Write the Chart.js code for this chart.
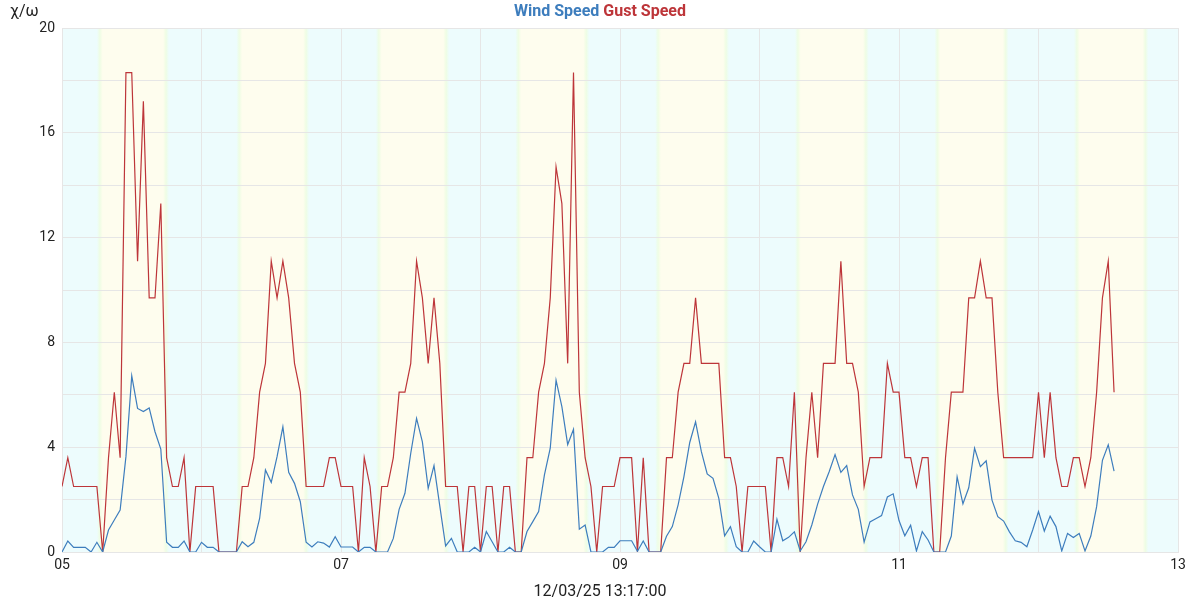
<!DOCTYPE html>
<html lang="en">
<head>
    <meta charset="UTF-8">
    <meta name="viewport" content="width=device-width, initial-scale=1.0">
    <script src="https://cdn.jsdelivr.net/npm/chart.js"></script>
    <title>Wind Speed Gust Speed</title>
    <style>
        body { margin: 0; background: #fff; }
        #wrap { width: 1200px; height: 600px; }
    </style>
</head>
<body>
    <div id="wrap"><canvas id="myChart"></canvas></div>
</body>

<script>
    // hourly readings, first one at day 05 00:00
    const firstDay = 5;
    const hoursPerStep = 1;

    const windSpeed = [
        0.0, 0.42, 0.18, 0.18, 0.18, 0.0, 0.37, 0.0, 0.84, 1.22,
        1.6, 3.64, 6.72, 5.48, 5.36, 5.5, 4.59, 3.93, 0.37, 0.18,
        0.18, 0.42, 0.0, 0.0, 0.37, 0.18, 0.18, 0.0, 0.0, 0.0,
        0.0, 0.39, 0.2, 0.37, 1.28, 3.13, 2.66, 3.64, 4.78, 3.04,
        2.62, 1.92, 0.37, 0.19, 0.39, 0.34, 0.19, 0.58, 0.19, 0.19,
        0.19, 0.0, 0.18, 0.18, 0.0, 0.0, 0.0, 0.52, 1.63, 2.24,
        3.77, 5.1, 4.2, 2.43, 3.3, 1.75, 0.23, 0.52, 0.0, 0.0,
        0.0, 0.18, 0.0, 0.78, 0.39, 0.0, 0.0, 0.18, 0.0, 0.0,
        0.78, 1.16, 1.54, 2.94, 3.96, 6.56, 5.55, 4.1, 4.68, 0.87,
        1.03, 0.0, 0.0, 0.0, 0.18, 0.18, 0.43, 0.43, 0.43, 0.03,
        0.42, 0.0, 0.0, 0.0, 0.6, 0.97, 1.8, 2.88, 4.18, 4.97,
        3.83, 2.98, 2.81, 2.05, 0.62, 0.97, 0.2, 0.0, 0.0, 0.42,
        0.2, 0.0, 0.0, 1.25, 0.43, 0.56, 0.77, 0.04, 0.39, 1.03,
        1.83, 2.5, 3.07, 3.72, 3.04, 3.3, 2.18, 1.63, 0.38, 1.15,
        1.27, 1.39, 2.1, 2.22, 1.2, 0.62, 1.02, 0.04, 0.78, 0.46,
        0.0, 0.0, 0.0, 0.61, 2.87, 1.84, 2.45, 3.96, 3.26, 3.48,
        1.98, 1.35, 1.18, 0.77, 0.43, 0.37, 0.2, 0.84, 1.54, 0.8,
        1.37, 0.97, 0.04, 0.71, 0.55, 0.71, 0.04, 0.61, 1.73, 3.5,
        4.09, 3.09
    ];

    const gustSpeed = [
        2.5, 3.6, 2.5, 2.5, 2.5, 2.5, 2.5, 0, 3.6, 6.1,
        3.6, 18.3, 18.3, 11.1, 17.2, 9.7, 9.7, 13.3, 3.6, 2.5,
        2.5, 3.6, 0, 2.5, 2.5, 2.5, 2.5, 0, 0, 0,
        0, 2.5, 2.5, 3.6, 6.1, 7.2, 11.1, 9.7, 11.1, 9.7,
        7.2, 6.1, 2.5, 2.5, 2.5, 2.5, 3.6, 3.6, 2.5, 2.5,
        2.5, 0, 3.6, 2.5, 0, 2.5, 2.5, 3.6, 6.1, 6.1,
        7.2, 11.1, 9.7, 7.2, 9.7, 7.2, 2.5, 2.5, 2.5, 0,
        2.5, 2.5, 0, 2.5, 2.5, 0, 2.5, 2.5, 0, 0,
        3.6, 3.6, 6.1, 7.2, 9.7, 14.7, 13.3, 7.2, 18.3, 6.1,
        3.6, 2.5, 0, 2.5, 2.5, 2.5, 3.6, 3.6, 3.6, 0,
        3.6, 0, 0, 0, 3.6, 3.6, 6.1, 7.2, 7.2, 9.7,
        7.2, 7.2, 7.2, 7.2, 3.6, 3.6, 2.5, 0, 2.5, 2.5,
        2.5, 2.5, 0, 3.6, 3.6, 2.5, 6.1, 0, 3.6, 6.1,
        3.6, 7.2, 7.2, 7.2, 11.1, 7.2, 7.2, 6.1, 2.5, 3.6,
        3.6, 3.6, 7.2, 6.1, 6.1, 3.6, 3.6, 2.5, 3.6, 3.6,
        0, 0, 3.6, 6.1, 6.1, 6.1, 9.7, 9.7, 11.1, 9.7,
        9.7, 6.1, 3.6, 3.6, 3.6, 3.6, 3.6, 3.6, 6.1, 3.6,
        6.1, 3.6, 2.5, 2.5, 3.6, 3.6, 2.5, 3.6, 6.1, 9.7,
        11.1, 6.1
    ];

    // daylight per day (05..12), hour of day
    const sunrise = [6.5, 6.5, 6.5, 6.5, 6.55, 6.6, 6.6, 6.6];
    const sunset = [17.9, 18.0, 18.1, 18.2, 18.25, 18.3, 18.35, 18.4];

    const xTickDays = [5, 7, 9, 11, 13];
    const xTickLabels = ['05', '07', '09', '11', '13'];
    const yTickLabels = [0, 4, 8, 12, 16, 20];

    const blue = '#3d7dbd';
    const red = '#bd3539';
    const nightColor = '#edfcfd';
    const dayColor = '#fefdee';
    const twilight = '#eefde4';

    function toPoints(values) {
        return values.map((v, i) => ({ x: firstDay + i * hoursPerStep / 24, y: v }));
    }

    const bands = {
        id: 'bands',
        beforeDraw(chart) {
            const { ctx, chartArea: a } = chart;
            const x = chart.scales.x;
            ctx.save();
            ctx.fillStyle = nightColor;
            ctx.fillRect(a.left, a.top, a.right - a.left, a.bottom - a.top);
            const fade = 0.5;
            sunrise.forEach((rise, k) => {
                const day = firstDay + k;
                const x0 = x.getPixelForValue(day + (rise - fade) / 24);
                const x1 = x.getPixelForValue(day + (rise + fade) / 24);
                const x2 = x.getPixelForValue(day + (sunset[k] - fade) / 24);
                const x3 = x.getPixelForValue(day + (sunset[k] + fade) / 24);
                const w = x3 - x0;
                const g = ctx.createLinearGradient(x0, 0, x3, 0);
                g.addColorStop(0, nightColor);
                g.addColorStop((x1 - x0) / 2 / w, twilight);
                g.addColorStop((x1 - x0) / w, dayColor);
                g.addColorStop((x2 - x0) / w, dayColor);
                g.addColorStop((x2 - x0 + (x3 - x2) / 2) / w, twilight);
                g.addColorStop(1, nightColor);
                ctx.fillStyle = g;
                ctx.fillRect(x0, a.top, w, a.bottom - a.top);
            });
            ctx.restore();
        },
        afterDraw(chart) {
            const ctx = chart.ctx;
            ctx.save();
            ctx.textBaseline = 'middle';
            // two coloured title
            ctx.font = 'bold 16px Roboto';
            const t1 = 'Wind Speed ';
            const t2 = 'Gust Speed';
            const w1 = ctx.measureText(t1).width;
            const w2 = ctx.measureText(t2).width;
            let left = 600 - (w1 + w2) / 2;
            ctx.textAlign = 'left';
            ctx.fillStyle = blue;
            ctx.fillText(t1, left, 12);
            ctx.fillStyle = red;
            ctx.fillText(t2, left + w1, 12);
            // unit label and time stamp
            ctx.font = '16px Roboto';
            ctx.fillStyle = '#222';
            ctx.fillText('χ/ω', 10, 12);
            ctx.textAlign = 'center';
            ctx.fillText('12/03/25 13:17:00', 600, 592);
            ctx.restore();
        }
    };

    const ctx = document.getElementById('myChart');

    new Chart(ctx, {
        type: 'line',
        data: {
            datasets: [{
                label: 'Wind Speed',
                data: toPoints(windSpeed),
                borderColor: blue,
                borderWidth: 1.2,
                pointRadius: 0,
                tension: 0
            }, {
                label: 'Gust Speed',
                data: toPoints(gustSpeed),
                borderColor: red,
                borderWidth: 1.2,
                pointRadius: 0,
                tension: 0
            }]
        },
        options: {
            responsive: true,
            maintainAspectRatio: false,
            animation: false,
            layout: { padding: { left: 0, right: 22, top: 28, bottom: 0 } },
            plugins: {
                legend: { display: false },
                tooltip: { enabled: false }
            },
            scales: {
                x: {
                    type: 'linear',
                    min: 5,
                    max: 13,
                    afterFit: s => { s.height = 48; },
                    grid: { color: '#e6e6e6', drawTicks: false },
                    border: { color: '#e6e6e6' },
                    ticks: {
                        stepSize: 1,
                        padding: 5,
                        maxRotation: 0,
                        autoSkip: false,
                        color: '#222',
                        font: { family: 'Roboto', size: 14 },
                        callback: v => {
                            const k = xTickDays.indexOf(v);
                            return k >= 0 ? xTickLabels[k] : '';
                        }
                    }
                },
                y: {
                    min: 0,
                    max: 20,
                    afterFit: s => { s.width = 62; },
                    grid: { color: '#e6e6e6', drawTicks: false },
                    border: { color: '#e6e6e6' },
                    ticks: {
                        stepSize: 2,
                        padding: 7,
                        color: '#222',
                        font: { family: 'Roboto', size: 14 },
                        callback: v => yTickLabels.includes(v) ? String(v) : ''
                    }
                }
            }
        },
        plugins: [bands]
    });
</script>
</html>
